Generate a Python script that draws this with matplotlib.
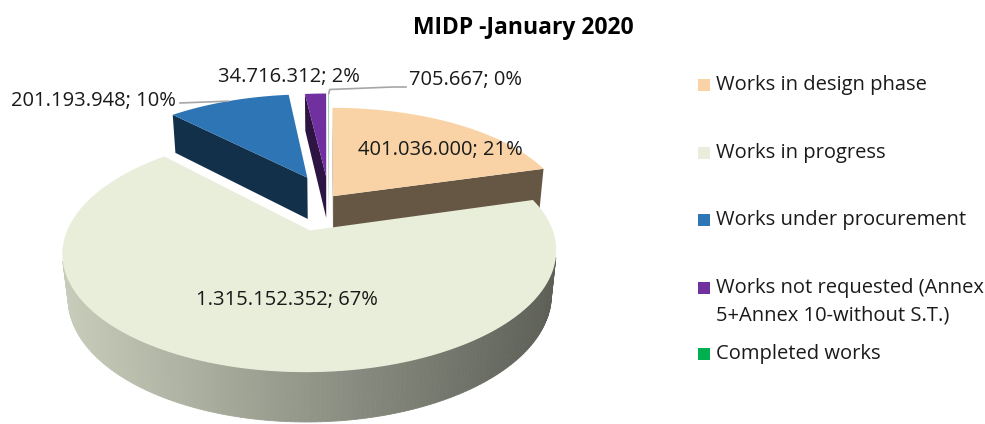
import numpy as np
import matplotlib
matplotlib.use("Agg")
import matplotlib.pyplot as plt
from matplotlib.patches import Polygon, Rectangle

# ---------------- data ----------------
title = "MIDP -January 2020"
categories = ["Works in design phase", "Works in progress", "Works under procurement",
              "Works not requested (Annex\n5+Annex 10-without S.T.)", "Completed works"]
values = [401036000, 1315152352, 201193948, 34716312, 705667]
colors = ["#F9D3A5", "#E8EED9", "#2E75B6", "#7030A0", "#00B050"]

# ---------------- style / layout ----------------
explode = [0.03, 0.30, 0.23, 0.22, 0.22]
FONT = ["Open Sans", "DejaVu Sans"]
plt.rcParams["font.family"] = FONT

S = 226.0            # pixel scale at pie origin
ELEV = np.radians(29)
PERSP = 0.17
D = np.cos(ELEV) / PERSP
H = 0.21             # pie thickness (radius units)
CX, CY = 329.0, 241.0
ce, se = np.cos(ELEV), np.sin(ELEV)
CAM = np.array([0.0, D * ce, D * se])


def proj(p):
    u, v, h = p
    Z = D - v * ce - h * se
    s = S * D / Z
    return (CX + u * s, CY + (v * se - h * ce) * s)


def shade(c, f):
    r, g, b = matplotlib.colors.to_rgb(c)
    return (r * f, g * f, b * f)


fig = plt.figure(figsize=(9.85, 4.24), dpi=100)
ax = fig.add_axes([0, 0, 1, 1])
ax.set_xlim(0, 985)
ax.set_ylim(424, 0)
ax.axis("off")

total = float(sum(values))
fracs = [v / total for v in values]
starts = np.cumsum([0] + fracs[:-1]) * 2 * np.pi
ends = starts + np.array(fracs) * 2 * np.pi
mids = (starts + ends) / 2


def wpt(i, ang, r, h):
    ox = explode[i] * np.sin(mids[i])
    oy = -explode[i] * np.cos(mids[i])
    return np.array([ox + r * np.sin(ang), oy - r * np.cos(ang), h])


order = sorted(range(len(values)), key=lambda i: -explode[i] * np.cos(mids[i]))

for i in order:
    a0, a1 = starts[i], ends[i]
    faces = []  # (depth, pts, color, edge)
    # radial faces
    for ang, nang in ((a0, a0 - np.pi / 2), (a1, a1 + np.pi / 2)):
        n = np.array([np.sin(nang), -np.cos(nang), 0.0])
        pts3 = [wpt(i, ang, 0, 0), wpt(i, ang, 0, H), wpt(i, ang, 1, H), wpt(i, ang, 1, 0)]
        c3 = np.mean(pts3, axis=0)
        if np.dot(n, CAM - c3) > 1e-3:
            faces.append((np.linalg.norm(CAM - c3), [proj(p) for p in pts3],
                          shade(colors[i], 0.41), False))
    # outer wall
    nstep = max(2, int(np.degrees(a1 - a0)))
    angs = np.linspace(a0, a1, nstep + 1)
    wall = []
    for j in range(nstep):
        t0, t1 = angs[j], angs[j + 1]
        tm = (t0 + t1) / 2
        n = np.array([np.sin(tm), -np.cos(tm), 0.0])
        pts3 = [wpt(i, t0, 1, 0), wpt(i, t0, 1, H), wpt(i, t1, 1, H), wpt(i, t1, 1, 0)]
        c3 = np.mean(pts3, axis=0)
        if np.dot(n, CAM - c3) > 0:
            wall.append((np.linalg.norm(CAM - c3), [proj(p) for p in pts3]))
    if wall:
        xs = [np.mean([q[0] for q in w[1]]) for w in wall]
        xmin, xmax = min(xs), max(xs)
        for (dep, pts), xm in zip(wall, xs):
            t = (xm - xmin) / max(xmax - xmin, 1e-9)
            f = 0.86 + (0.40 - 0.86) * t
            faces.append((dep, pts, shade(colors[i], f), True))
    faces.sort(key=lambda x: -x[0])
    for dep, pts, col, edge in faces:
        ax.add_patch(Polygon(pts, closed=True, fc=col, ec=col if edge else "none",
                             lw=0.6 if edge else 0))
    # top face
    tangs = np.linspace(a0, a1, max(3, int(np.degrees(a1 - a0)) * 2 + 1))
    top = [proj(wpt(i, 0, 0, H))] + [proj(wpt(i, a, 1, H)) for a in tangs]
    ax.add_patch(Polygon(top, closed=True, fc=colors[i], ec="none", lw=0))


def fmt(v):
    return "{:,}".format(v).replace(",", ".") + "; {:.0f}%".format(100 * v / total)


LBL = dict(fontsize=14.5, color="#1a1a1a")
ax.text(440, 150, fmt(values[0]), ha="center", va="center", **LBL)
ax.text(287, 300, fmt(values[1]), ha="center", va="center", **LBL)
ax.text(176, 101, fmt(values[2]), ha="right", va="center", **LBL)
ax.text(289, 77, fmt(values[3]), ha="center", va="center", **LBL)
ax.text(409, 80, fmt(values[4]), ha="left", va="center", **LBL)

# leader lines
e2 = proj(wpt(2, mids[2], 1, H))
ax.plot([180, e2[0]], [103, e2[1]], color="#a6a6a6", lw=1.2)
e4 = proj(wpt(4, mids[4], 1, H))
ax.plot([406, 393, e4[0] + 1, e4[0]], [87, 87, e4[1] - 4, e4[1]], color="#a6a6a6", lw=1.2)

# title
ax.text(523, 28, title, ha="center", va="center", fontsize=16.5, fontweight="bold", color="#000000")

# legend
leg_y = [85, 153, 220, 288, 354]
for lab, col, y in zip(categories, colors, leg_y):
    ax.add_patch(Rectangle((698, y - 6), 12, 12, fc=col, ec="none"))
    for k, line in enumerate(lab.split("\n")):
        ax.text(716, y + 27 * k, line, ha="left", va="center", fontsize=14.5, color="#1a1a1a")

fig.savefig("out.png", dpi=100)
